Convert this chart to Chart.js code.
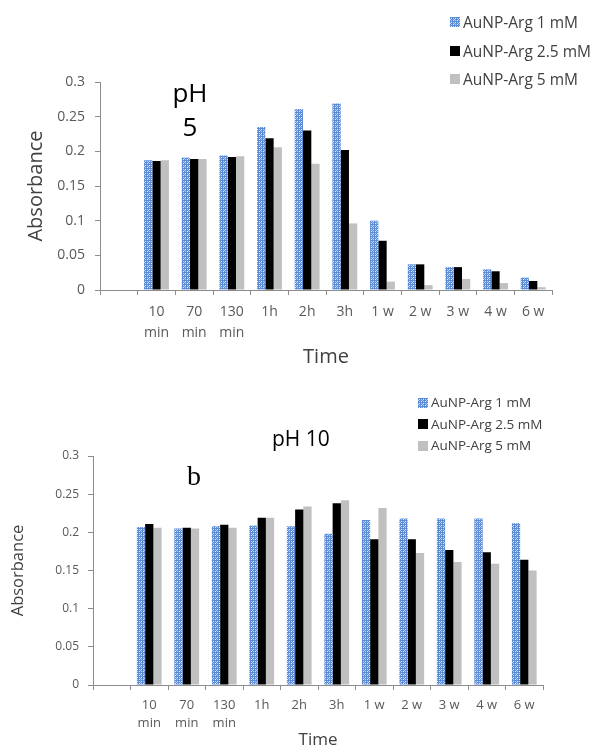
<!DOCTYPE html>
<html>
<head>
<meta charset="utf-8">
<script src="https://cdn.jsdelivr.net/npm/chart.js@4.4.1/dist/chart.umd.min.js"></script>
<style>
  html, body { margin: 0; padding: 0; background: #fff; }
  body { width: 594px; height: 749px; position: relative; overflow: hidden; font-family: "Open Sans", sans-serif; }
  .panel { position: absolute; left: 0; width: 594px; }
  #panelA { top: 0; height: 380px; }
  #panelB { top: 380px; height: 372px; }
  .legend { position: absolute; color: #404040; }
  .legend div { display: flex; align-items: center; white-space: nowrap; }
  .legend canvas { margin-right: 3px; }
  .note { position: absolute; color: #000; white-space: nowrap; }
</style>
</head>
<body>
<div class="panel" id="panelA">
  <canvas id="chartA" width="594" height="380"></canvas>
  <div class="legend" id="legendA" style="left:450px; top:8px; font-size:15.5px; line-height:28.5px;"></div>
  <div class="note" style="left:160px; top:75px; width:60px; text-align:center; font-size:26px; line-height:34px;">pH<br>5</div>
</div>
<div class="panel" id="panelB">
  <canvas id="chartB" width="594" height="372"></canvas>
  <div class="legend" id="legendB" style="left:418px; top:12px; font-size:13.5px; line-height:21.5px;"></div>
  <div class="note" style="left:272px; top:44px; font-size:21px;">pH 10</div>
  <div class="note" style="left:187px; top:80px; font-family:'Liberation Serif', serif; font-size:28px;">b</div>
</div>

<script>
// categories (first slot is left empty, as in the original plot)
const timeLabels = ["", ["10", "min"], ["70", "min"], ["130", "min"], "1h", "2h", "3h", "1 w", "2 w", "3 w", "4 w", "6 w"];
const seriesNames = ["AuNP-Arg 1 mM", "AuNP-Arg 2.5 mM", "AuNP-Arg 5 mM"];

// pH 5 absorbance
const ph5Arg1  = [null, 0.187, 0.191, 0.194, 0.235, 0.261, 0.269, 0.100, 0.037, 0.033, 0.030, 0.018];
const ph5Arg25 = [null, 0.186, 0.189, 0.192, 0.219, 0.230, 0.202, 0.071, 0.037, 0.033, 0.027, 0.013];
const ph5Arg5  = [null, 0.187, 0.189, 0.193, 0.206, 0.182, 0.096, 0.012, 0.007, 0.016, 0.010, 0.004];

// pH 10 absorbance
const ph10Arg1  = [null, 0.207, 0.205, 0.208, 0.209, 0.208, 0.198, 0.216, 0.218, 0.218, 0.218, 0.212];
const ph10Arg25 = [null, 0.211, 0.206, 0.210, 0.219, 0.230, 0.238, 0.191, 0.191, 0.177, 0.174, 0.164];
const ph10Arg5  = [null, 0.206, 0.205, 0.206, 0.219, 0.234, 0.242, 0.232, 0.173, 0.161, 0.159, 0.150];

const axisGrey = "#8c8c8c";
const tickGrey = "#595959";
const fontFamily = "'Open Sans', sans-serif";

// dotted blue fill for the 1 mM series
function dottedBlue() {
  const tile = document.createElement("canvas");
  tile.width = 4;
  tile.height = 4;
  const c = tile.getContext("2d");
  c.fillStyle = "#5b8bd5";
  c.fillRect(0, 0, 4, 4);
  c.fillStyle = "#eaf0fa";
  c.fillRect(1, 1, 1, 1);
  c.fillRect(3, 3, 1, 1);
  c.fillStyle = "#b6caec";
  c.fillRect(1, 3, 1, 1);
  c.fillRect(3, 1, 1, 1);
  c.fillRect(0, 2, 1, 1);
  return c.createPattern(tile, "repeat");
}

const fills = [dottedBlue(), "#000000", "#c0c0c0"];

function buildChart(canvas, series, o) {
  return new Chart(canvas, {
    type: "bar",
    data: {
      labels: timeLabels,
      datasets: seriesNames.map((name, i) => ({
        label: name,
        data: series[i],
        backgroundColor: fills[i],
        borderWidth: 0,
        categoryPercentage: 0.66,
        barPercentage: 1,
      })),
    },
    options: {
      responsive: false,
      animation: false,
      devicePixelRatio: 1,
      layout: { padding: { left: 0, top: o.top, right: o.right, bottom: 0 } },
      plugins: { legend: { display: false }, tooltip: { enabled: false } },
      scales: {
        x: {
          grid: { drawOnChartArea: false, tickLength: 5, color: axisGrey },
          border: { color: axisGrey },
          ticks: {
            color: tickGrey,
            font: { family: fontFamily, size: o.xTick, lineHeight: o.xTickLh },
            padding: o.xPad,
            maxRotation: 0,
            autoSkip: false,
          },
          title: {
            display: true,
            text: "Time",
            color: "#404040",
            font: { family: fontFamily, size: o.xTitle },
            padding: { top: 0, bottom: o.xTitlePad },
          },
          afterFit: (s) => { s.height = o.xHeight; },
        },
        y: {
          min: 0,
          max: 0.3,
          grid: { drawOnChartArea: false, tickLength: 5, color: axisGrey },
          border: { color: axisGrey },
          ticks: {
            stepSize: 0.05,
            color: tickGrey,
            font: { family: fontFamily, size: o.yTick },
            padding: o.yPad,
            callback: (v) => String(Math.round(v * 100) / 100),
          },
          title: {
            display: true,
            text: "Absorbance",
            color: "#404040",
            font: { family: fontFamily, size: o.yTitle },
            padding: { top: o.yTitlePad, bottom: 0 },
          },
          afterFit: (s) => { s.width = o.yWidth; },
        },
      },
    },
  });
}

function buildLegend(el, chart) {
  chart.data.datasets.forEach((ds) => {
    const row = document.createElement("div");
    const sw = document.createElement("canvas");
    sw.width = 10;
    sw.height = 10;
    const c = sw.getContext("2d");
    c.fillStyle = ds.backgroundColor;
    c.fillRect(0, 0, 10, 10);
    row.appendChild(sw);
    row.appendChild(document.createTextNode(ds.label));
    el.appendChild(row);
  });
}

const chartA = buildChart(document.getElementById("chartA"), [ph5Arg1, ph5Arg25, ph5Arg5], {
  top: 82, right: 42, yWidth: 100, xHeight: 90,
  xTick: 14, xTickLh: 1.5, xPad: 7, yTick: 14, yPad: 10,
  xTitle: 20, xTitlePad: 11, yTitle: 20, yTitlePad: 24,
});

const chartB = buildChart(document.getElementById("chartB"), [ph10Arg1, ph10Arg25, ph10Arg5], {
  top: 76, right: 51, yWidth: 93, xHeight: 67,
  xTick: 13, xTickLh: 1.4, xPad: 6, yTick: 12, yPad: 9,
  xTitle: 17, xTitlePad: 2, yTitle: 16.5, yTitlePad: 8.6,
});

buildLegend(document.getElementById("legendA"), chartA);
buildLegend(document.getElementById("legendB"), chartB);
</script>
</body>
</html>
